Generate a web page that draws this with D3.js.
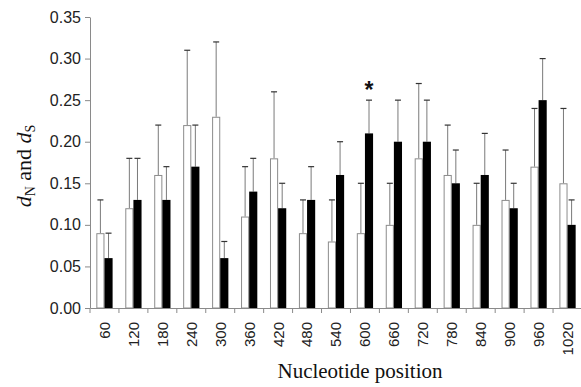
<!DOCTYPE html>
<html>
<head>
<meta charset="utf-8">
<script src="https://cdn.jsdelivr.net/npm/d3@7"></script>
<style>
  body { margin: 0; background: #fff; }
  svg { display: block; }
  .tick text { fill: #222; }
</style>
</head>
<body>
<div id="chart"></div>
<script>
// data
var positions = ["60","120","180","240","300","360","420","480","540","600","660","720","780","840","900","960","1020"];
var dN    = [0.09, 0.12, 0.16, 0.22, 0.23, 0.11, 0.18, 0.09, 0.08, 0.09, 0.10, 0.18, 0.16, 0.10, 0.13, 0.17, 0.15];
var dNTop = [0.13, 0.18, 0.22, 0.31, 0.32, 0.17, 0.26, 0.13, 0.13, 0.15, 0.15, 0.27, 0.22, 0.15, 0.19, 0.24, 0.24];
var dS    = [0.06, 0.13, 0.13, 0.17, 0.06, 0.14, 0.12, 0.13, 0.16, 0.21, 0.20, 0.20, 0.15, 0.16, 0.12, 0.25, 0.10];
var dSTop = [0.09, 0.18, 0.17, 0.22, 0.08, 0.18, 0.15, 0.17, 0.20, 0.25, 0.25, 0.25, 0.19, 0.21, 0.15, 0.30, 0.13];
var yTicks = [0, 0.05, 0.10, 0.15, 0.20, 0.25, 0.30, 0.35];
var starred = ["600"];

var W = 581, H = 387;
var plotLeft = 90, plotRight = 582, plotTop = 17, plotBottom = 308;

var svg = d3.select("#chart").append("svg")
    .attr("width", W)
    .attr("height", H);

var x0 = d3.scaleBand().domain(positions).range([plotLeft, plotRight]).paddingInner(0).paddingOuter(0);
var x1 = d3.scaleBand().domain(["N", "S"]).range([0, x0.bandwidth()]).paddingInner(0).paddingOuter(0.78);
var y = d3.scaleLinear().domain([0, 0.35]).range([plotBottom, plotTop]);

var rows = positions.map(function(p, i) {
    return [
        {pos: p, key: "N", v: dN[i], hi: dNTop[i]},
        {pos: p, key: "S", v: dS[i], hi: dSTop[i]}
    ];
});

// error bars first so bars sit over the lower part
var g = svg.append("g");
var groups = g.selectAll("g.grp").data(rows).enter().append("g")
    .attr("class", "grp")
    .attr("transform", function(d) { return "translate(" + x0(d[0].pos) + ",0)"; });

groups.selectAll("line.err").data(function(d) { return d; }).enter().append("line")
    .attr("class", "err")
    .attr("x1", function(d) { return x1(d.key) + x1.bandwidth() / 2; })
    .attr("x2", function(d) { return x1(d.key) + x1.bandwidth() / 2; })
    .attr("y1", function(d) { return y(d.v); })
    .attr("y2", function(d) { return y(d.hi); })
    .attr("stroke", "#7a7a7a")
    .attr("stroke-width", 1);

groups.selectAll("line.cap").data(function(d) { return d; }).enter().append("line")
    .attr("class", "cap")
    .attr("x1", function(d) { return x1(d.key) + x1.bandwidth() / 2 - 3; })
    .attr("x2", function(d) { return x1(d.key) + x1.bandwidth() / 2 + 3; })
    .attr("y1", function(d) { return y(d.hi); })
    .attr("y2", function(d) { return y(d.hi); })
    .attr("stroke", "#333")
    .attr("stroke-width", 1.2);

groups.selectAll("rect").data(function(d) { return d; }).enter().append("rect")
    .attr("x", function(d) { return x1(d.key) + (d.key == "N" ? 0.5 : 0); })
    .attr("y", function(d) { return y(d.v) + (d.key == "N" ? 0.5 : 0); })
    .attr("width", function(d) { return x1.bandwidth() - (d.key == "N" ? 1 : 0); })
    .attr("height", function(d) { return y(0) - y(d.v) - (d.key == "N" ? 0.5 : 0); })
    .attr("fill", function(d) { return d.key == "N" ? "#fff" : "#000"; })
    .attr("stroke", function(d) { return d.key == "N" ? "#8c8c8c" : "none"; })
    .attr("stroke-width", 1);

// star above the significant dS bar
starred.forEach(function(p) {
    var i = positions.indexOf(p);
    svg.append("text")
        .attr("x", x0(p) + x1("S") + x1.bandwidth() / 2)
        .attr("y", y(dSTop[i]) - 2)
        .attr("text-anchor", "middle")
        .attr("font-family", "Liberation Sans, Arial, sans-serif")
        .attr("font-weight", "bold")
        .attr("font-size", 23)
        .attr("fill", "#111")
        .text("*");
});

// y axis
var yAxis = svg.append("g")
    .attr("transform", "translate(" + plotLeft + ",0)")
    .call(d3.axisLeft(y).tickValues(yTicks).tickFormat(d3.format(".2f")).tickSize(5).tickPadding(4).tickSizeOuter(0));
yAxis.select(".domain").attr("stroke", "#8a8a8a");
yAxis.selectAll(".tick line").attr("stroke", "#8a8a8a");
yAxis.selectAll("text")
    .attr("font-family", "Liberation Sans, Arial, sans-serif")
    .attr("font-size", 16);

// x axis: labels at centres, small ticks at category boundaries
var xAxis = svg.append("g")
    .attr("transform", "translate(0," + plotBottom + ")")
    .call(d3.axisBottom(x0).tickSize(0).tickSizeOuter(0));
xAxis.select(".domain").attr("stroke", "#8a8a8a");
xAxis.selectAll("text")
    .attr("font-family", "Liberation Sans, Arial, sans-serif")
    .attr("font-size", 15)
    .attr("transform", "rotate(-90)")
    .attr("text-anchor", "end")
    .attr("x", -14)
    .attr("y", 0)
    .attr("dy", "0.36em");

var bounds = positions.map(function(p) { return x0(p); });
xAxis.selectAll("line.bound").data(bounds).enter().append("line")
    .attr("class", "bound")
    .attr("x1", function(d) { return d; })
    .attr("x2", function(d) { return d; })
    .attr("y1", 0)
    .attr("y2", 5)
    .attr("stroke", "#8a8a8a");

// axis titles
svg.append("text")
    .attr("x", 360)
    .attr("y", 378)
    .attr("text-anchor", "middle")
    .attr("font-family", "Liberation Serif, Times New Roman, serif")
    .attr("font-size", 21)
    .attr("fill", "#111")
    .text("Nucleotide position");

var yt = svg.append("text")
    .attr("transform", "translate(31,166) rotate(-90)")
    .attr("text-anchor", "middle")
    .attr("font-family", "Liberation Serif, Times New Roman, serif")
    .attr("font-size", 22)
    .attr("fill", "#111");
yt.append("tspan").attr("font-style", "italic").text("d");
yt.append("tspan").attr("font-size", 14).attr("dy", 4).text("N");
yt.append("tspan").attr("dy", -4).text(" and ");
yt.append("tspan").attr("font-style", "italic").text("d");
yt.append("tspan").attr("font-size", 14).attr("dy", 4).text("S");
</script>
</body>
</html>
